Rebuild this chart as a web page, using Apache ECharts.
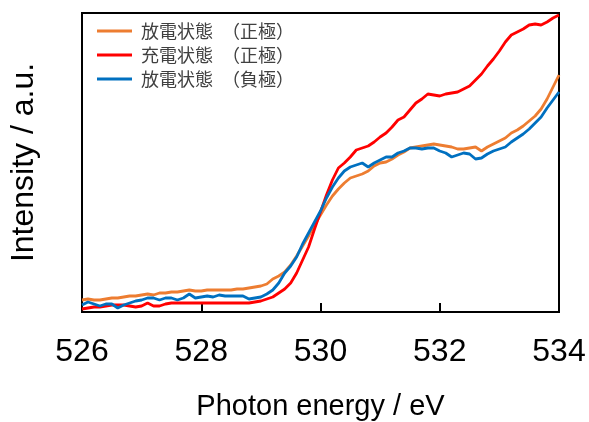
<!DOCTYPE html>
<html>
  <head>
    <meta charset="utf-8" />
    <title>O K-edge</title>
    <script src="https://cdn.jsdelivr.net/npm/echarts@6/dist/echarts.min.js"></script>
  </head>
  <body style="margin:0">
    <div id="main" style="width: 589px;height:422px;"></div>
    <script type="text/javascript">
      // photon energy (eV), 0.1 eV steps
      var energy = [
        526.0, 526.1, 526.2, 526.3, 526.4, 526.5, 526.6, 526.7, 526.8, 526.9,
        527.0, 527.1, 527.2, 527.3, 527.4, 527.5, 527.6, 527.7, 527.8, 527.9,
        528.0, 528.1, 528.2, 528.3, 528.4, 528.5, 528.6, 528.7, 528.8, 528.9,
        529.0, 529.1, 529.2, 529.3, 529.4, 529.5, 529.6, 529.7, 529.8, 529.9,
        530.0, 530.1, 530.2, 530.3, 530.4, 530.5, 530.6, 530.7, 530.8, 530.9,
        531.0, 531.1, 531.2, 531.3, 531.4, 531.5, 531.6, 531.7, 531.8, 531.9,
        532.0, 532.1, 532.2, 532.3, 532.4, 532.5, 532.6, 532.7, 532.8, 532.9,
        533.0, 533.1, 533.2, 533.3, 533.4, 533.5, 533.6, 533.7, 533.8, 533.9,
        534.0
      ];

      // 放電状態（正極）
      var dischargeCathode = [
        12, 13, 12, 12, 13, 14, 14, 15, 16, 16,
        17, 18, 17, 19, 19, 20, 20, 21, 22, 21,
        21, 22, 22, 22, 22, 22, 23, 23, 24, 25,
        26, 28, 33, 36, 40, 47, 56, 66, 76, 87,
        97, 107, 116, 123, 129, 134, 136, 138, 141, 146,
        149, 150, 153, 157, 160, 164, 165, 166, 167, 168,
        167, 166, 165, 163, 163, 164, 165, 161, 165, 168,
        171, 174, 179, 182, 186, 191, 196, 203, 213, 225,
        237
      ];

      // 充電状態（正極）
      var chargeCathode = [
        3, 4, 5, 5, 6, 7, 7, 7, 6, 5,
        6, 9, 6, 6, 8, 9, 9, 9, 9, 9,
        9, 9, 9, 9, 9, 9, 9, 9, 9, 10,
        11, 13, 15, 19, 23, 29, 39, 52, 65, 83,
        100, 117, 132, 144, 149, 155, 162, 164, 166, 170,
        175, 179, 185, 192, 195, 202, 209, 213, 218, 217,
        216, 218, 219, 220, 223, 226, 232, 238, 246, 253,
        261, 270, 277, 280, 283, 287, 288, 287, 290, 294,
        297
      ];

      // 放電状態（負極）
      var dischargeAnode = [
        7, 10, 8, 6, 8, 8, 4, 7, 9, 11,
        12, 14, 14, 12, 14, 14, 12, 14, 18, 14,
        15, 16, 15, 17, 16, 16, 16, 16, 13, 14,
        15, 18, 22, 29, 39, 46, 55, 68, 79, 90,
        101, 114, 125, 134, 141, 145, 147, 149, 145, 149,
        152, 155, 155, 159, 161, 164, 164, 163, 164, 164,
        161, 159, 155, 157, 159, 158, 153, 154, 158, 161,
        163, 165, 170, 174, 178, 183, 189, 195, 204, 212,
        220
      ];

      var names = ["放電状態　（正極）", "充電状態　（正極）", "放電状態　（負極）"];
      var colors = ["#ED7D31", "#FF0000", "#0070C0"];
      var xTicks = [526, 528, 530, 532, 534];

      function pairs(ys) {
        return energy.map(function(e, i) {
          return [e, ys[i]];
        });
      }

      var myChart = echarts.init(document.getElementById("main"));

      var option = {
        backgroundColor: "#fff",
        animation: false,
        grid: {
          left: 82,
          right: 30,
          top: 13,
          bottom: 110,
          outerBoundsMode: "none",
          containLabel: false,
          show: true,
          borderColor: "#000",
          borderWidth: 2
        },
        legend: {
          orient: "vertical",
          left: 92,
          top: 17,
          itemGap: 6,
          itemWidth: 35,
          itemHeight: 3,
          icon: "rect",
          textStyle: {
            fontFamily: "Noto Sans CJK JP",
            fontSize: 18,
            color: "#404040",
            padding: [0, 0, 0, 4]
          },
          data: names
        },
        xAxis: {
          type: "value",
          min: xTicks[0],
          max: xTicks[xTicks.length - 1],
          interval: 2,
          name: "Photon energy / eV",
          nameLocation: "middle",
          nameGap: 80,
          nameTextStyle: {
            fontFamily: "Liberation Sans",
            fontSize: 29,
            color: "#000"
          },
          axisLine: { show: false },
          axisTick: {
            inside: true,
            length: 9,
            lineStyle: { color: "#000", width: 2 }
          },
          axisLabel: {
            margin: 24,
            fontFamily: "Liberation Sans",
            fontSize: 32,
            color: "#000"
          },
          splitLine: { show: false }
        },
        yAxis: {
          type: "value",
          min: 0,
          max: 299,
          name: "Intensity / a.u.",
          nameLocation: "middle",
          nameGap: 42,
          nameTextStyle: {
            fontFamily: "Liberation Sans",
            fontSize: 32,
            color: "#000"
          },
          axisLine: { show: false },
          axisTick: { show: false },
          axisLabel: { show: false },
          splitLine: { show: false }
        },
        series: [
          {
            name: names[0],
            type: "line",
            showSymbol: false,
            symbol: "none",
            lineStyle: { color: colors[0], width: 2.8 },
            itemStyle: { color: colors[0] },
            data: pairs(dischargeCathode)
          },
          {
            name: names[1],
            type: "line",
            showSymbol: false,
            symbol: "none",
            lineStyle: { color: colors[1], width: 2.8 },
            itemStyle: { color: colors[1] },
            data: pairs(chargeCathode)
          },
          {
            name: names[2],
            type: "line",
            showSymbol: false,
            symbol: "none",
            lineStyle: { color: colors[2], width: 2.8 },
            itemStyle: { color: colors[2] },
            data: pairs(dischargeAnode)
          }
        ]
      };

      myChart.setOption(option);
    </script>
  </body>
</html>
